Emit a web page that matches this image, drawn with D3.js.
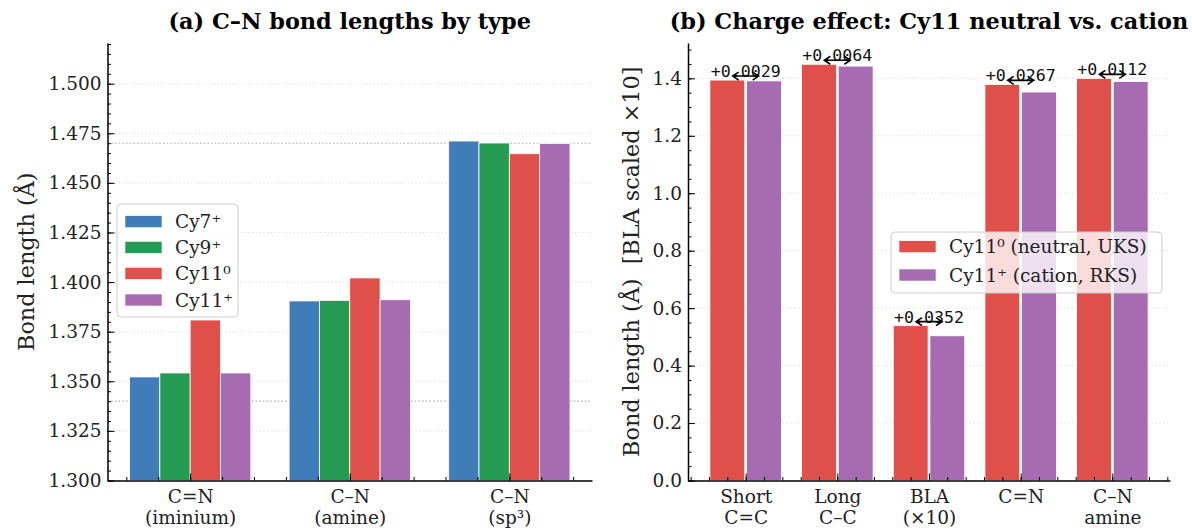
<!DOCTYPE html>
<html>
<head>
<meta charset="utf-8">
<script src="https://cdn.jsdelivr.net/npm/d3@7"></script>
<style>
  body { margin: 0; background: #fff; }
  svg { font-family: "DejaVu Serif", serif; }
  .tick text { font-family: "DejaVu Serif", serif; font-size: 18.5px; fill: #222; }
</style>
</head>
<body>
<svg width="1192" height="531"></svg>
<script>
// panel (a) data
const bondTypes = [['C=N', '(iminium)'], ['C–N', '(amine)'], ['C–N', '(sp³)']];
const species = ['Cy7⁺', 'Cy9⁺', 'Cy11⁰', 'Cy11⁺'];
const cy7 = [1.3522, 1.3905, 1.4711];
const cy9 = [1.3542, 1.3908, 1.4701];
const cy11n = [1.3809, 1.4021, 1.4647];
const cy11c = [1.3542, 1.3911, 1.4698];
const refLines = [1.470, 1.340];
const leftTicks = [1.300, 1.325, 1.350, 1.375, 1.400, 1.425, 1.450, 1.475, 1.500];

// panel (b) data
const metrics = [['Short', 'C=C'], ['Long', 'C–C'], ['BLA', '(×10)'], ['C=N'], ['C–N', 'amine']];
const neutral = [1.394, 1.449, 0.539, 1.379, 1.400];
const cation = [1.3911, 1.4426, 0.5038, 1.3523, 1.3888];
const rightTicks = [0.0, 0.2, 0.4, 0.6, 0.8, 1.0, 1.2, 1.4];
const chargeLabels = ['Cy11⁰ (neutral, UKS)', 'Cy11⁺ (cation, RKS)'];

const colors = ['#3f7cb8', '#259a52', '#e0504a', '#a66bb0'];

const svg = d3.select('svg');
const plotTop = 43, plotBottom = 480.5;

function grid(g, x, y, majors) {
  g.append('g').selectAll('line').data(majors).join('line')
    .attr('x1', x.range()[0]).attr('x2', x.range()[1])
    .attr('y1', d => y(d)).attr('y2', d => y(d))
    .attr('stroke', '#d4d4d4').attr('stroke-width', 0.9)
    .attr('stroke-dasharray', '1.2,2.6');
}

function axes(g, x, y, majors, minorY, xCount, fmt, labels) {
  const [y0, y1] = y.domain();
  const minors = d3.range(Math.round(y0 / minorY), Math.floor(y1 / minorY) + 1).map(i => i * minorY);
  g.append('g')
    .attr('transform', `translate(${x.range()[0]},0)`)
    .call(d3.axisLeft(y).tickValues(minors).tickSize(-3.5).tickSizeOuter(0).tickFormat(''))
    .call(a => a.select('.domain').remove());
  g.append('g')
    .attr('transform', `translate(${x.range()[0]},0)`)
    .call(d3.axisLeft(y).tickValues(majors).tickSize(-7).tickSizeOuter(0).tickPadding(6).tickFormat(fmt))
    .call(a => a.select('.domain').attr('stroke-width', 1.5));

  const [x0, x1] = x.domain();
  const xMinors = d3.range(Math.ceil(x0 / 0.2), Math.floor(x1 / 0.2) + 1).map(i => i * 0.2);
  g.append('g')
    .attr('transform', `translate(0,${plotBottom})`)
    .call(d3.axisBottom(x).tickValues(xMinors).tickSize(-3.5).tickSizeOuter(0).tickFormat(''))
    .call(a => a.select('.domain').remove());
  g.append('g')
    .attr('transform', `translate(0,${plotBottom})`)
    .call(d3.axisBottom(x).tickValues(d3.range(xCount)).tickSize(-7).tickSizeOuter(0).tickFormat(''))
    .call(a => a.select('.domain').attr('stroke-width', 1.5))
    .call(a => a.selectAll('.tick').append('text')
      .attr('fill', '#222').attr('text-anchor', 'middle')
      .selectAll('tspan').data(d => labels[d]).join('tspan')
      .attr('x', 0).attr('y', (d, i) => 22.5 + i * 20.5)
      .text(d => d));
  g.selectAll('.tick line').attr('stroke', '#000').attr('stroke-width', 1);
  g.selectAll('g').attr('font-family', null).attr('font-size', null);
}

function legend(g, x0, y0, w, h, rowY, items, cols) {
  g.append('rect')
    .attr('x', x0).attr('y', y0).attr('width', w).attr('height', h)
    .attr('rx', 4).attr('fill', '#fff').attr('fill-opacity', 0.8)
    .attr('stroke', '#cccccc').attr('stroke-width', 1);
  items.forEach((t, i) => {
    const cy = rowY[i];
    g.append('rect').attr('x', x0 + 8).attr('y', cy - 6).attr('width', 37).attr('height', 12)
      .attr('fill', cols[i]).attr('stroke', '#fff').attr('stroke-width', 0.6);
    g.append('text').attr('x', x0 + 58).attr('y', cy + 6.5)
      .attr('font-size', 18.5).attr('fill', '#222').text(t);
  });
}

// ---------- panel (a) ----------
const ga = svg.append('g');
const xa = d3.scaleLinear().domain([-0.518, 2.518]).range([107.5, 592]);
const ya = d3.scaleLinear().domain([1.3, 1.5205]).range([plotBottom, plotTop]);
grid(ga, xa, ya, leftTicks);

ga.append('g').selectAll('line').data(refLines).join('line')
  .attr('x1', xa.range()[0]).attr('x2', xa.range()[1])
  .attr('y1', d => ya(d)).attr('y2', d => ya(d))
  .attr('stroke', '#aaaaaa').attr('stroke-width', 1.1)
  .attr('stroke-dasharray', '1.5,2.2');

const seriesA = [cy7, cy9, cy11n, cy11c];
const barW = 0.19;
seriesA.forEach((vals, s) => {
  ga.append('g').selectAll('rect').data(vals).join('rect')
    .attr('x', (d, i) => xa(i + (s - 1.5) * barW - barW / 2))
    .attr('width', xa(barW) - xa(0))
    .attr('y', d => ya(d))
    .attr('height', d => ya(1.3) - ya(d))
    .attr('fill', colors[s])
    .attr('stroke', '#fff').attr('stroke-width', 0.8);
});
axes(ga, xa, ya, leftTicks, 0.005, bondTypes.length, d3.format('.3f'), bondTypes);

legend(ga, 117, 204, 121, 113, [221.7, 247.3, 273.3, 300], species, colors);

ga.append('text')
  .attr('x', (xa.range()[0] + xa.range()[1]) / 2).attr('y', 29)
  .attr('text-anchor', 'middle').attr('font-weight', 'bold').attr('font-size', 22.4)
  .text('(a) C–N bond lengths by type');
ga.append('text')
  .attr('transform', `translate(34,${(plotTop + plotBottom) / 2}) rotate(-90)`)
  .attr('text-anchor', 'middle').attr('font-size', 22.3).attr('fill', '#222')
  .text('Bond length (Å)');

// ---------- panel (b) ----------
const gb = svg.append('g');
const xb = d3.scaleLinear().domain([-0.629, 4.629]).range([688, 1170]);
const yb = d3.scaleLinear().domain([0, 1.523]).range([plotBottom, plotTop]);
grid(gb, xb, yb, rightTicks);

const bw = 0.38;
[neutral, cation].forEach((vals, s) => {
  gb.append('g').selectAll('rect').data(vals).join('rect')
    .attr('x', (d, i) => xb(i + (s === 0 ? -0.2 : 0.2) - bw / 2))
    .attr('width', xb(bw) - xb(0))
    .attr('y', d => yb(d))
    .attr('height', d => yb(0) - yb(d))
    .attr('fill', colors[s + 2])
    .attr('stroke', '#fff').attr('stroke-width', 0.8);
});

// difference annotations
const ann = gb.append('g');
neutral.forEach((v, i) => {
  const cx = xb(i);
  const yt = yb(Math.max(v, cation[i])) - 3;
  ann.append('text')
    .attr('x', cx).attr('y', yt)
    .attr('text-anchor', 'middle')
    .attr('font-family', '"DejaVu Sans Mono", monospace').attr('font-size', 16.6)
    .attr('fill', '#111')
    .text('+' + (v - cation[i]).toFixed(4));
  const ay = yt - 1, x1 = cx - 13, x2 = cx + 13;
  ann.append('path')
    .attr('d', `M${x1},${ay}L${x2},${ay}M${x1 + 6},${ay - 4}L${x1},${ay}L${x1 + 6},${ay + 4}M${x2 - 6},${ay - 4}L${x2},${ay}L${x2 - 6},${ay + 4}`)
    .attr('fill', 'none').attr('stroke', '#000').attr('stroke-width', 1.6);
});

axes(gb, xb, yb, rightTicks, 0.05, metrics.length, d3.format('.1f'), metrics);

legend(gb, 891, 232, 271, 61, [246.7, 275], chargeLabels, [colors[2], colors[3]]);

gb.append('text')
  .attr('x', (xb.range()[0] + xb.range()[1]) / 2).attr('y', 29)
  .attr('text-anchor', 'middle').attr('font-weight', 'bold').attr('font-size', 22.4)
  .text('(b) Charge effect: Cy11 neutral vs. cation');
gb.append('text')
  .attr('transform', `translate(639,${(plotTop + plotBottom) / 2}) rotate(-90)`)
  .attr('text-anchor', 'middle').attr('font-size', 22.3).attr('fill', '#222')
  .text('Bond length (Å)\u00a0 [BLA scaled ×10]');
</script>
</body>
</html>
